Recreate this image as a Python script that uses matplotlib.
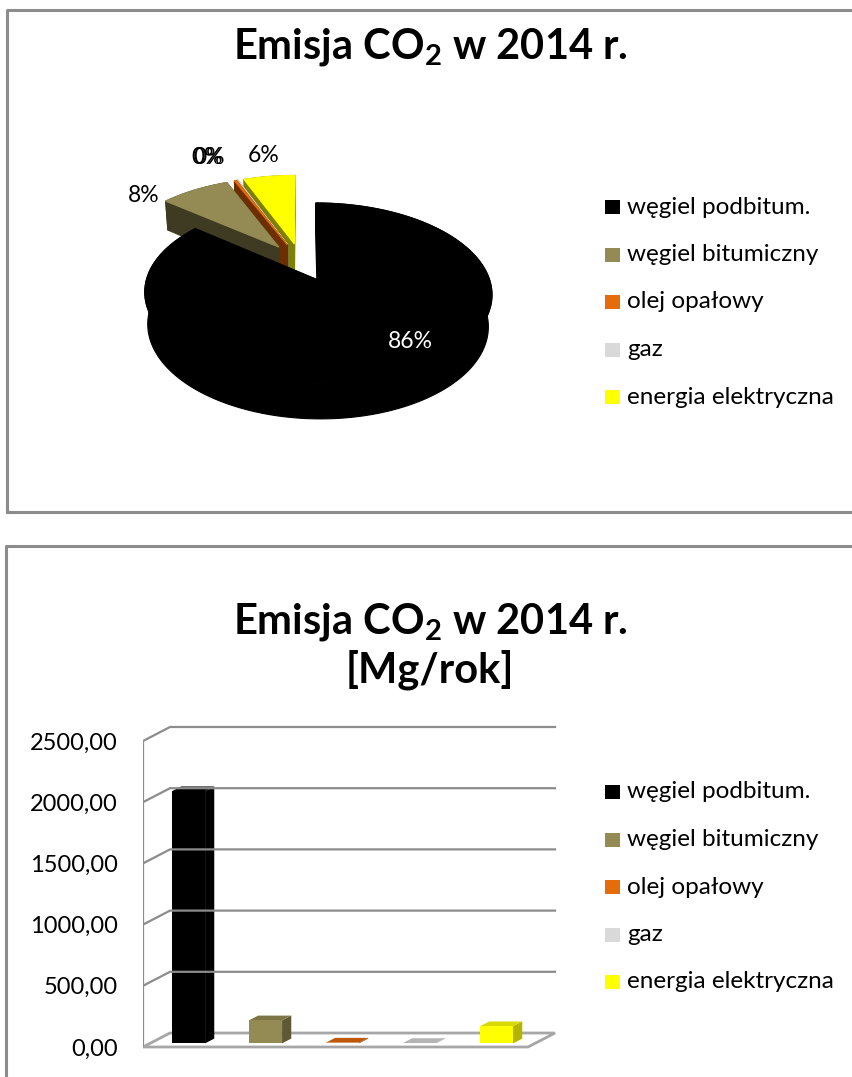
import numpy as np
import matplotlib
matplotlib.use("Agg")
import matplotlib.pyplot as plt
from matplotlib.patches import Polygon, Rectangle

plt.rcParams["font.family"] = ["Lato", "DejaVu Sans"]
plt.rcParams["mathtext.fontset"] = "custom"
plt.rcParams["mathtext.rm"] = "Lato"
plt.rcParams["mathtext.bf"] = "Lato:bold"

# --- data ---
fuels = ["węgiel podbitum.", "węgiel bitumiczny", "olej opałowy", "gaz", "energia elektryczna"]
emission = [2060.0, 188.0, 6.0, 3.0, 140.0]          # Mg/rok
pct_labels = ["86%", "8%", "0%", "0%", "6%"]
y_ticks = [0, 500, 1000, 1500, 2000, 2500]
y_tick_labels = ["0,00", "500,00", "1000,00", "1500,00", "2000,00", "2500,00"]

top_colors = ["#000000", "#948a54", "#e46c0a", "#d9d9d9", "#ffff00"]
side_colors = ["#000000", "#3f3b22", "#6e2f00", "#6e6e6e", "#808000"]
bar_front = ["#000000", "#948a54", "#e46c0a", "#d9d9d9", "#ffff00"]
bar_side = ["#000000", "#5e5834", "#8a4106", "#8c8c8c", "#b3b300"]
bar_top = ["#000000", "#7d7546", "#c0580a", "#b4b4b4", "#d9d900"]

W, H = 852, 1077
fig = plt.figure(figsize=(W / 100, H / 100), dpi=100)
fig.patch.set_facecolor("white")


def px_rect(left, top, width, height):
    return [left / W, (H - top - height) / H, width / W, height / H]


# ---------------- 3D pie ----------------
ELEV = np.radians(30)
DIST = 6.0
DEPTH = 0.22
EXPLODE = 0.23
SCALE = 166.5            # px per radius unit
APEX = (318, 280)        # px position of the big slice's tip


def project(x, y, z):
    s, c = np.sin(ELEV), np.cos(ELEV)
    vy = np.asarray(y) + DIST * c
    vz = np.asarray(z) - DIST * s
    yc = vy * s + vz * c
    zc = vy * c - vz * s
    return DIST * np.asarray(x) / zc, DIST * yc / zc


vals = np.array(emission)
frac = vals / vals.sum()
edges = np.concatenate([[0], np.cumsum(frac)]) * 2 * np.pi
mids = (edges[:-1] + edges[1:]) / 2

# place the pie so the tip of the first slice sits at APEX
ax0, ay0 = project(EXPLODE * np.sin(mids[0]), EXPLODE * np.cos(mids[0]), 0.0)
cx, cy = APEX[0] - SCALE * ax0, APEX[1] + SCALE * ay0

pl, pt, pw, ph = 100, 120, 440, 340
ax_pie = fig.add_axes(px_rect(pl, pt, pw, ph))
ax_pie.set_xlim((pl - cx) / SCALE, (pl + pw - cx) / SCALE)
ax_pie.set_ylim((cy - pt - ph) / SCALE, (cy - pt) / SCALE)
ax_pie.axis("off")


def face(pts, color):
    xs, ys = project(*np.array(pts).T)
    ax_pie.add_patch(Polygon(np.column_stack([xs, ys]), closed=True,
                             facecolor=color, edgecolor=color, lw=0.8))


for i in [4, 3, 2, 1, 0]:
    a0, a1 = edges[i], edges[i + 1]
    ox, oy = EXPLODE * np.sin(mids[i]), EXPLODE * np.cos(mids[i])
    th = np.linspace(a0, a1, max(int((a1 - a0) / 0.01), 4))
    rx, ry = ox + np.sin(th), oy + np.cos(th)
    top_rim = [(x, y, 0) for x, y in zip(rx, ry)]
    bot_rim = [(x, y, -DEPTH) for x, y in zip(rx, ry)]
    face(top_rim + bot_rim[::-1], side_colors[i])
    for a in (a1, a0):
        ex, ey = ox + np.sin(a), oy + np.cos(a)
        face([(ox, oy, 0), (ex, ey, 0), (ex, ey, -DEPTH), (ox, oy, -DEPTH)], side_colors[i])
    face([(ox, oy, 0)] + top_rim, top_colors[i])

# ---------------- 3D bars ----------------
PX_CAT = 77.0
PX_VAL = 61.2 / 500
DX = 27 / PX_CAT
DY = 14 / PX_VAL
BW = 0.43
F0, F1 = 0.26, 0.60

bl, btop, bbot = 143, 715, 1065
ax_bar = fig.add_axes(px_rect(bl, btop, 5.5 * PX_CAT, bbot - btop))
ax_bar.set_xlim(0, 5.5)
ax_bar.set_ylim(-(bbot - 1047) / PX_VAL, (1047 - btop) / PX_VAL)
for sp in ax_bar.spines.values():
    sp.set_visible(False)
ax_bar.set_xticks([])
ax_bar.set_yticks(y_ticks)
ax_bar.set_yticklabels(y_tick_labels, fontsize=17)
ax_bar.tick_params(axis="y", length=0, pad=18)
ax_bar.patch.set_alpha(0)

n = len(emission)
grid_c = "#8c8c8c"
ax_bar.plot([0, 0], [0, y_ticks[-1]], color=grid_c, lw=1.6, solid_capstyle="butt")
for v in y_ticks[1:]:
    ax_bar.plot([0, DX, n + DX], [v, v + DY, v + DY], color=grid_c, lw=1.6)
ax_bar.add_patch(Polygon([(0, 0), (n, 0), (n + DX, DY), (DX, DY)], closed=True,
                         fill=False, edgecolor="#a6a6a6", lw=2))

for i, v in enumerate(emission):
    x0 = i + (1 - BW) / 2 + F0 * DX
    y0 = F0 * DY
    ddx, ddy = (F1 - F0) * DX, (F1 - F0) * DY
    ax_bar.add_patch(Polygon([(x0 + BW, y0), (x0 + BW + ddx, y0 + ddy),
                              (x0 + BW + ddx, y0 + ddy + v), (x0 + BW, y0 + v)],
                             closed=True, facecolor=bar_side[i], edgecolor="none"))
    ax_bar.add_patch(Polygon([(x0, y0 + v), (x0 + BW, y0 + v), (x0 + BW + ddx, y0 + v + ddy),
                              (x0 + ddx, y0 + v + ddy)],
                             closed=True, facecolor=bar_top[i], edgecolor="none"))
    ax_bar.add_patch(Rectangle((x0, y0), BW, v, facecolor=bar_front[i], edgecolor="none"))

# ---------------- overlay: frames, titles, legends, pie labels ----------------
ov = fig.add_axes([0, 0, 1, 1])
ov.set_xlim(0, W)
ov.set_ylim(H, 0)
ov.axis("off")
ov.patch.set_alpha(0)

frame_c = "#8c8c8c"
ov.plot([7, 7, W + 5], [512, 10, 10], color=frame_c, lw=2.2)
ov.plot([7, W + 5], [512, 512], color=frame_c, lw=2.2)
ov.plot([6, 6, W + 5], [H + 5, 546, 546], color=frame_c, lw=2.2)

title = r"Emisja CO$_\mathbf{2}$ w 2014 r."
ov.text(430, 47, title, ha="center", va="center", fontsize=30, fontweight="bold")
ov.text(430, 622, title, ha="center", va="center", fontsize=30, fontweight="bold")
ov.text(430, 670, "[Mg/rok]", ha="center", va="center", fontsize=30, fontweight="bold")

for y_first in (207, 792):
    for k, name in enumerate(fuels):
        yc = y_first + k * 47.5
        ov.add_patch(Rectangle((605, yc - 7), 15, 14, facecolor=top_colors[k], edgecolor="none"))
        ov.text(627, yc, name, ha="left", va="center", fontsize=17.5)

label_pos = [(410, 342), (144, 195), (207, 158), (209, 158), (264, 156)]
label_col = ["white", "black", "black", "black", "black"]
for txt, (lx, ly), col in zip(pct_labels, label_pos, label_col):
    ov.text(lx, ly, txt, ha="center", va="center", fontsize=16.5, color=col)

fig.savefig("out.png", dpi=100)
